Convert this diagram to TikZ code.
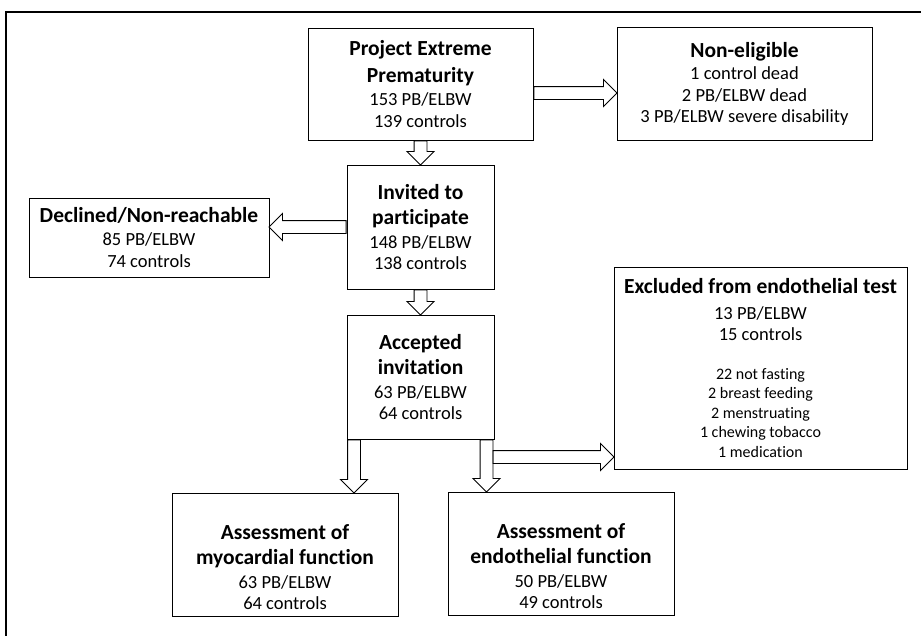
\documentclass[tikz,border=0pt]{standalone}
\usepackage{fontspec}
\setmainfont{Carlito}[Ligatures=NoCommon]
\usepackage{tikz}
\usetikzlibrary{shapes,arrows,positioning,calc}

\newcommand{\hd}[1]{{\fontsize{21.5}{24}\selectfont\bfseries #1}}
\newcommand{\sm}[1]{{\fontsize{16}{19}\selectfont #1}}
\newcommand{\fatarrow}[2]{%
  \path let \p1=(#1), \p2=(#2), \n1={veclen(\x2-\x1,\y2-\y1)}, \n2={atan2(\y2-\y1,\x2-\x1)} in
    node[flow, minimum height=\n1, rotate=\n2, anchor=tail] at (#1) {};}

\begin{document}
\begin{tikzpicture}[
    x=1pt, y=-1pt,
    node distance=24pt,
    box/.style={rectangle, draw, line width=1pt, align=center, inner sep=2pt, font=\fontsize{18.5}{21.5}\selectfont},
    flow/.style={single arrow, draw, line width=0.9pt, inner xsep=0pt, inner ysep=6pt, single arrow head extend=7pt},
    frame/.style={line width=1.6pt},
]
\useasboundingbox (0,0) rectangle (921,635);

% Page frame
\draw[frame] (6,645) -- (6,12) -- (930,12);

% Cohort
\node[box, minimum width=225pt, minimum height=112pt] (project) at (420.5,84) {\hd{Project Extreme}\\[5pt]\hd{Prematurity}\\[2pt]153 PB/ELBW\\139 controls};
\node[box, minimum width=255pt, minimum height=113pt, right=83pt of project] (noneligible) {\hd{Non-eligible}\\[1pt]1 control dead\\2 PB/ELBW dead\\3 PB/ELBW severe disability};

% Invitation
\node[box, minimum width=147pt, minimum height=124pt, below=of project] (invited) {\hd{Invited to}\\[4pt]\hd{participate}\\[2pt]148 PB/ELBW\\138 controls};
\node[box, minimum width=240pt, minimum height=79pt, left=77pt of invited, yshift=-10.5pt] (declined) {\hd{Declined/Non-reachable}\\[2pt]85 PB/ELBW\\74 controls};
\node[box, minimum width=147pt, minimum height=124pt, below=25pt of invited] (accepted) {\hd{Accepted}\\[4pt]\hd{invitation}\\[2pt]63 PB/ELBW\\64 controls};

% Exclusions
\node[box, minimum width=293pt, minimum height=202pt, right=119pt of accepted, yshift=9pt] (excluded) {\hd{Excluded from endothelial test}\\[4pt]13 PB/ELBW\\15 controls\\[17pt]\sm{22 not fasting}\\[-2pt]\sm{2 breast feeding}\\[-2pt]\sm{2 menstruating}\\[-2pt]\sm{1 chewing tobacco}\\[-2pt]\sm{1 medication}};

% Assessments
\node[box, minimum width=226pt, minimum height=123pt, below left=53pt and -52pt of accepted] (myocardial) {\hd{\rule{0pt}{40pt}Assessment of}\\[4pt]\hd{myocardial function}\\[2pt]63 PB/ELBW\\64 controls};
\node[box, minimum width=226pt, minimum height=123pt, below right=52pt and -47pt of accepted] (endothelial) {\hd{\rule{0pt}{40pt}Assessment of}\\[4pt]\hd{endothelial function}\\[2pt]50 PB/ELBW\\49 controls};

% Arrows
\coordinate (toneligible) at ([yshift=-9pt]project.east);
\coordinate (tomyo) at ([xshift=7.5pt]accepted.south west);
\coordinate (toendo) at ([xshift=-8pt]accepted.south east);
\coordinate (toexcl) at ([xshift=6pt, yshift=-17.5pt]toendo);
\fatarrow{toneligible}{toneligible -| noneligible.west}
\fatarrow{project.south}{invited.north}
\fatarrow{invited.west}{invited.west -| declined.east}
\fatarrow{invited.south}{accepted.north}
\fatarrow{tomyo}{tomyo |- myocardial.north}
\fatarrow{toexcl}{toexcl -| excluded.west}
\fatarrow{toendo}{toendo |- endothelial.north}

\end{tikzpicture}
\end{document}
